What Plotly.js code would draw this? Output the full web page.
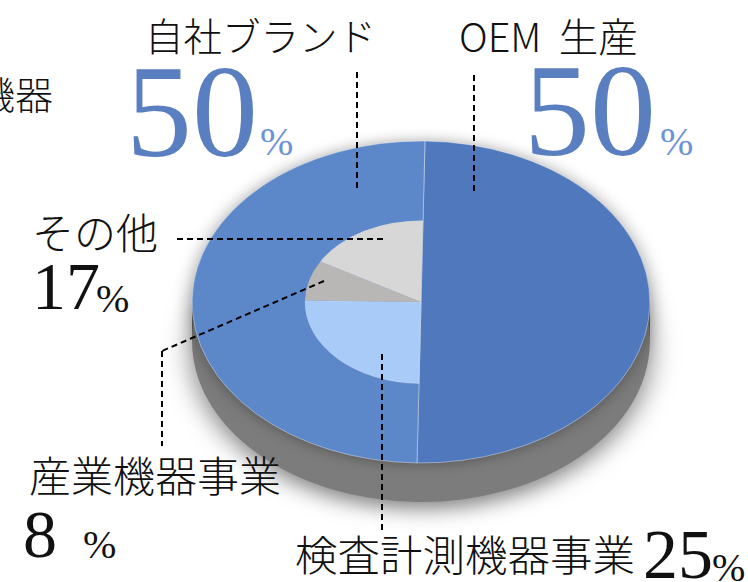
<!DOCTYPE html>
<html>
<head>
<meta charset="utf-8">
<script src="https://cdn.plot.ly/plotly-3.0.1.min.js"></script>
<style>html,body{margin:0;padding:0;background:#fff;overflow:hidden}#c{width:748px;height:582px}</style>
</head>
<body>
<div id="c"></div>
<script>
var W = 748, H = 582;
var outerLabels = ['OEM 生産', '自社ブランド'];
var outerValues = [50, 50];
var innerLabels = ['OEM 生産', '検査計測機器事業', '産業機器事業', 'その他'];
var innerValues = [50, 25, 8, 17];
var outerColors = ['#5079bd', '#5c88ca'];
var innerColors = ['rgba(0,0,0,0)', '#a9cbf8', '#b9b7b5', '#d7d7d7'];
var sideColor = '#7c7c7c';

var CX = 421, CY = 302, RX = 229, RY = 161, RI = 116, DEPTH = 39, TILT = 1;
var FLAT = RY / RX;
var cjk = '"Noto Sans CJK JP", sans-serif';
var serif = '"Liberation Serif", serif';

function px(x) { return x / W; }
function py(y) { return 1 - y / H; }
function dom(r) { return { x: [px(CX - r), px(CX + r)], y: [py(H / 2 + r), py(H / 2 - r)] }; }
function pie(labels, values, colors, r, lineW) {
  return { type: 'pie', labels: labels, values: values, domain: dom(r), sort: false, direction: 'clockwise',
    rotation: TILT, textinfo: 'none', hoverinfo: 'label+percent', showlegend: false,
    marker: { colors: colors, line: { color: 'rgba(255,255,255,0.45)', width: lineW } } };
}
var data = [
  pie(outerLabels, outerValues, [sideColor, sideColor], RX, 0),
  pie(outerLabels, outerValues, outerColors, RX, 1),
  pie(innerLabels, innerValues, innerColors, RI, [0, 0.5, 0, 0])
];

function t(text, x, y, size, anchor, font, color, weight) {
  return { text: text, x: px(x), y: py(y), xref: 'paper', yref: 'paper', xanchor: anchor, yanchor: 'middle',
    showarrow: false, borderpad: 0, font: { family: font, size: size, color: color || '#111111', weight: weight || 300 } };
}
var blueBig = '#5a7fc1', bluePct = '#6c92d5', ink = '#111111';
var annotations = [
  t('機器', 54, 93, 38, 'right', cjk),
  t('自社ブランド', 144, 34, 38.5, 'left', cjk),
  t('OEM  生産', 458, 34, 39.5, 'left', cjk),
  t('50', 125, 112, 132, 'left', serif, blueBig, 400),
  t('%', 259, 141, 40, 'left', serif, bluePct, 400),
  t('50', 523, 110, 132, 'left', serif, blueBig, 400),
  t('%', 659, 141, 40, 'left', serif, bluePct, 400),
  t('その他', 31, 231, 42, 'left', cjk),
  t('17', 31, 286, 68, 'left', serif, ink, 400),
  t('%', 95, 298, 40, 'left', serif, ink, 400),
  t('産業機器事業', 28, 473, 42, 'left', cjk),
  t('8', 22, 534, 68, 'left', serif, ink, 400),
  t('%', 82, 544, 40, 'left', serif, ink, 400),
  t('検査計測機器事業', 294, 552, 42.5, 'left', cjk),
  t('25', 642, 554, 70, 'left', serif, ink, 400),
  t('%', 711, 567, 40, 'left', serif, ink, 400)
];

function lead(x0, y0, x1, y1) {
  return { type: 'line', xref: 'paper', yref: 'paper', x0: px(x0), y0: py(y0), x1: px(x1), y1: py(y1),
    line: { color: '#000', width: 2, dash: '6px,4px' } };
}
var shapes = [
  { type: 'rect', layer: 'below', xref: 'paper', yref: 'paper', x0: px(CX - RX), x1: px(CX + RX),
    y0: py(CY), y1: py(CY + DEPTH), fillcolor: sideColor, line: { width: 0 } },
  lead(357, 72, 357, 192),
  lead(474, 75, 474, 191),
  lead(177, 239, 384, 239),
  lead(324, 281, 162, 351),
  lead(162, 351, 162, 446),
  lead(382, 354, 382, 531)
];

var layout = { width: W, height: H, margin: { l: 0, r: 0, t: 0, b: 0 }, paper_bgcolor: '#fff',
  showlegend: false, annotations: annotations, shapes: shapes };

Plotly.newPlot('c', data, layout, { displayModeBar: false, staticPlot: true }).then(function () {
  // The chart is viewed in tilted perspective: squash the library's pies into ellipses.
  var traces = document.querySelectorAll('.pielayer .trace');
  traces.forEach(function (g, i) {
    var dy = i === 0 ? DEPTH : 0;
    g.setAttribute('transform', 'translate(0,' + (CY + dy) + ') scale(1,' + FLAT + ') translate(0,' + (-H / 2) + ')');
    if (i === 0) g.style.filter = 'drop-shadow(0 10px 14px rgba(0,0,0,0.5))';
    if (i === 1) g.style.filter = 'drop-shadow(0 0 9px rgba(0,0,0,0.35))';
  });
});
</script>
</body>
</html>
